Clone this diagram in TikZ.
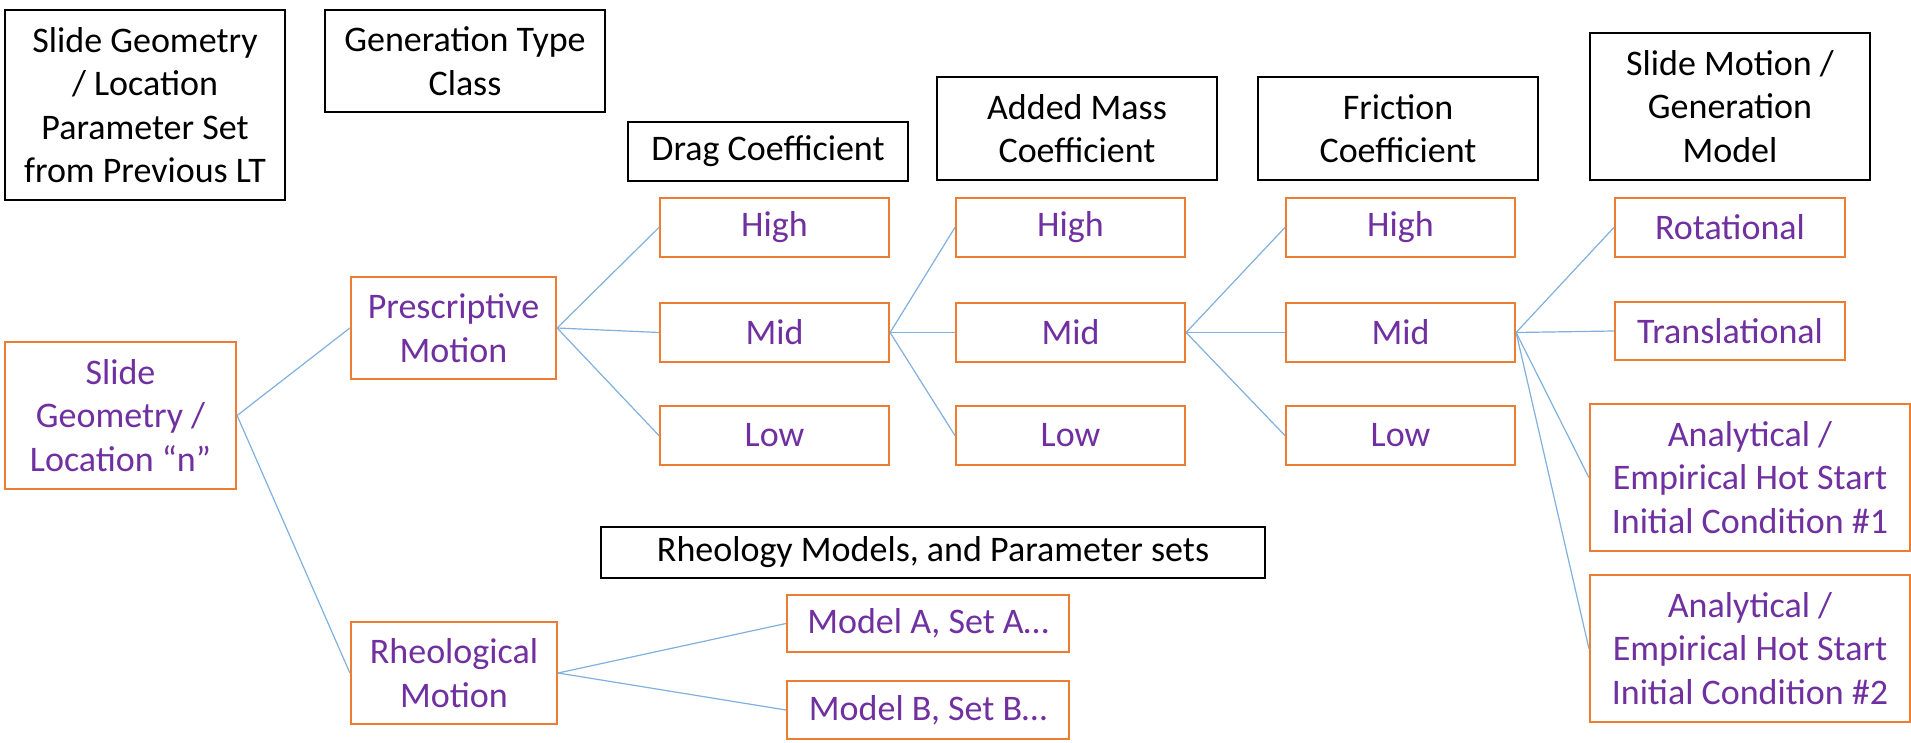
\documentclass[tikz,border=0pt]{standalone}
\usepackage{fontspec}
\setmainfont{Carlito}
\definecolor{borange}{HTML}{ED7D31}
\definecolor{tpurple}{HTML}{7030A0}
\definecolor{lblue}{HTML}{7FB0DE}
\begin{document}
\begin{tikzpicture}[x=0.5pt,y=-0.5pt,
  hdr/.style={draw=black, line width=1pt, rectangle, inner sep=0pt, align=center,
    font=\fontsize{18}{21.7}\selectfont, text=black},
  opt/.style={draw=borange, line width=1.1pt, rectangle, inner sep=0pt, align=center,
    font=\fontsize{18}{21.7}\selectfont, text=tpurple},
  link/.style={draw=lblue, line width=0.6pt}]
\useasboundingbox (0,0) rectangle (1911,743);
% headers
\node[hdr, minimum width=140pt, minimum height=95pt] (h1) at (145,105) {Slide Geometry\\/ Location\\Parameter Set\\from Previous LT};
\node[hdr, minimum width=140pt, minimum height=51pt] (h2) at (465,61) {Generation Type\\Class};
\node[hdr, minimum width=140pt, minimum height=29.5pt] (h3) at (768,151.5) {Drag Coefficient};
\node[hdr, minimum width=140pt, minimum height=51.5pt] (h4) at (1077,128.5) {Added Mass\\Coefficient};
\node[hdr, minimum width=140pt, minimum height=51.5pt] (h5) at (1398,128.5) {Friction\\Coefficient};
\node[hdr, minimum width=140pt, minimum height=73.5pt] (h6) at (1730,106.5) {Slide Motion /\\Generation\\Model};
\node[hdr, minimum width=332pt, minimum height=25.5pt] (h7) at (933,552.5) {Rheology Models, and Parameter sets};
% options
\node[opt, minimum width=115.5pt, minimum height=73.5pt] (sg) at (120.5,415.5) {Slide\\Geometry /\\Location “n”};
\node[opt, minimum width=102.5pt, minimum height=51pt] (pm) at (453.5,328) {Prescriptive\\Motion};
\node[opt, minimum width=103pt, minimum height=51pt] (rm) at (454,673) {Rheological\\Motion};
\node[opt, minimum width=114.5pt, minimum height=29.5pt] (dh) at (774.5,227.5) {High};
\node[opt, minimum width=114.5pt, minimum height=29.5pt] (dm) at (774.5,332.5) {Mid};
\node[opt, minimum width=114.5pt, minimum height=29.5pt] (dl) at (774.5,435.5) {Low};
\node[opt, minimum width=114.5pt, minimum height=29.5pt] (ah) at (1070.5,227.5) {High};
\node[opt, minimum width=114.5pt, minimum height=29.5pt] (am) at (1070.5,332.5) {Mid};
\node[opt, minimum width=114.5pt, minimum height=29.5pt] (al) at (1070.5,435.5) {Low};
\node[opt, minimum width=114.5pt, minimum height=29.5pt] (fh) at (1400.5,227.5) {High};
\node[opt, minimum width=114.5pt, minimum height=29.5pt] (fm) at (1400.5,332.5) {Mid};
\node[opt, minimum width=114.5pt, minimum height=29.5pt] (fl) at (1400.5,435.5) {Low};
\node[opt, minimum width=115pt, minimum height=29.5pt] (rot) at (1730,227.5) {Rotational};
\node[opt, minimum width=115pt, minimum height=29pt] (tra) at (1730,331) {Translational};
\node[opt, minimum width=160pt, minimum height=73.5pt] (an1) at (1750,477.5) {Analytical /\\Empirical Hot Start\\Initial Condition \#1};
\node[opt, minimum width=160pt, minimum height=73.5pt] (an2) at (1750,648.5) {Analytical /\\Empirical Hot Start\\Initial Condition \#2};
\node[opt, minimum width=141pt, minimum height=28.5pt] (ma) at (928,623.5) {Model A, Set A…};
\node[opt, minimum width=141pt, minimum height=29pt] (mb) at (928,710) {Model B, Set B…};
% connectors
\draw[link] (sg.east) -- (pm.west);
\draw[link] (sg.east) -- (rm.west);
\draw[link] (pm.east) -- (dh.west);
\draw[link] (pm.east) -- (dm.west);
\draw[link] (pm.east) -- (dl.west);
\draw[link] (dm.east) -- (ah.west);
\draw[link] (dm.east) -- (am.west);
\draw[link] (dm.east) -- (al.west);
\draw[link] (am.east) -- (fh.west);
\draw[link] (am.east) -- (fm.west);
\draw[link] (am.east) -- (fl.west);
\draw[link] (fm.east) -- (rot.west);
\draw[link] (fm.east) -- (tra.west);
\draw[link] (fm.east) -- (an1.west);
\draw[link] (fm.east) -- (an2.west);
\draw[link] (rm.east) -- (ma.west);
\draw[link] (rm.east) -- (mb.west);
\end{tikzpicture}
\end{document}
